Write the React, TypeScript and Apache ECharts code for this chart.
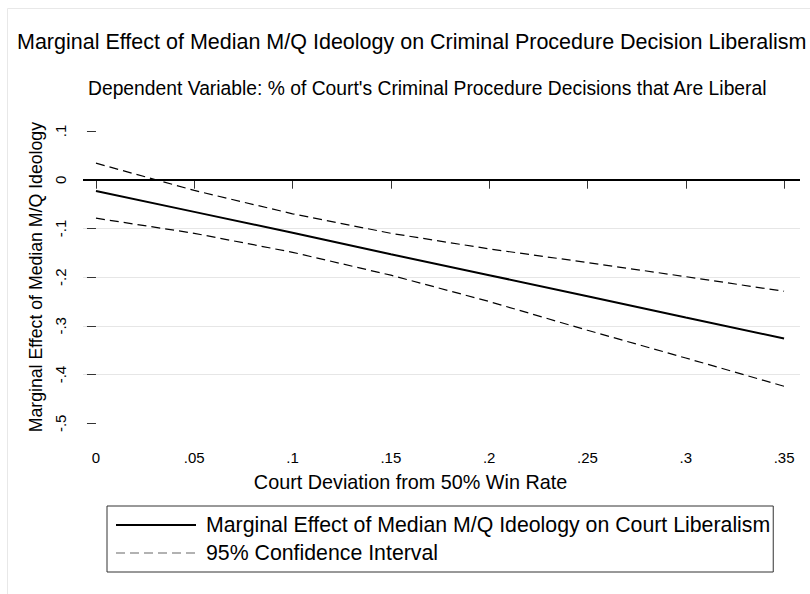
import React, { useEffect, useRef } from "react";
import * as echarts from "echarts";

const xValues = [0, 0.05, 0.1, 0.15, 0.2, 0.25, 0.3, 0.35];
const effect = [-0.023, -0.066, -0.109, -0.153, -0.196, -0.239, -0.283, -0.326];
const upperCI = [0.034, -0.022, -0.070, -0.110, -0.142, -0.170, -0.199, -0.229];
const lowerCI = [-0.079, -0.110, -0.149, -0.196, -0.250, -0.309, -0.366, -0.424];
const xTicks = [0, 0.05, 0.1, 0.15, 0.2, 0.25, 0.3, 0.35];
const referenceY = [0];

const TITLE = "Marginal Effect of Median M/Q Ideology on Criminal Procedure Decision Liberalism";
const SUBTITLE = "Dependent Variable: % of Court's Criminal Procedure Decisions that Are Liberal";
const X_NAME = "Court Deviation from 50% Win Rate";
const Y_NAME = "Marginal Effect of Median M/Q Ideology";
const S_EFFECT = "Marginal Effect of Median M/Q Ideology on Court Liberalism";
const S_CI = "95% Confidence Interval";

const FONT = "'Liberation Sans', Arial, Helvetica, sans-serif";

function fmt(v: number): string {
  const r = Math.round(v * 100) / 100;
  if (Math.abs(r) < 1e-9) return "0";
  let s = String(r);
  s = s.replace(/^(-?)0\./, "$1.");
  return s;
}

export default function App() {
  const ref = useRef<HTMLDivElement>(null);
  useEffect(() => {
    if (!ref.current) return;
    const chart = echarts.init(ref.current, null, { renderer: "svg" });
    const pairs = (ys: number[]) => xValues.map((x, i) => [x, ys[i]]);
    const hiddenSymbol = {
      color: "rgba(0,0,0,0)",
      borderColor: "rgba(0,0,0,0)",
      borderWidth: 0,
      opacity: 0,
    };
    const option: any = {
      animation: false,
      backgroundColor: "#ffffff",
      textStyle: { fontFamily: FONT },
      title: [
        {
          text: TITLE,
          left: 17,
          top: 31,
          padding: 0,
          textStyle: { fontSize: 21.5, fontWeight: "normal", color: "#000", fontFamily: FONT },
        },
        {
          text: SUBTITLE,
          left: 88,
          top: 79,
          padding: 0,
          textStyle: { fontSize: 19.3, fontWeight: "normal", color: "#000", fontFamily: FONT },
        },
      ],
      graphic: [
        {
          type: "rect",
          silent: true,
          shape: { x: 7.5, y: 8.5, width: 900, height: 700 },
          style: { fill: "none", stroke: "#e8e8e8", lineWidth: 1 },
        },
      ],
      legend: {
        orient: "vertical",
        left: 107,
        top: 506,
        padding: [8, 3, 8, 8],
        itemWidth: 80,
        itemHeight: 14,
        itemGap: 6,
        borderColor: "#333",
        borderWidth: 1,
        borderRadius: 0,
        itemStyle: hiddenSymbol,
        textStyle: { fontSize: 21.3, color: "#000", fontFamily: FONT, lineHeight: 22, padding: [0, 0, 0, 5] },
        data: [
          { name: S_EFFECT, itemStyle: hiddenSymbol },
          { name: S_CI, itemStyle: hiddenSymbol, lineStyle: { color: "#666", width: 1.2 } },
        ],
      },
      grid: { left: 83, right: 10, top: 131, bottom: 594 - 423.3, containLabel: false },
      xAxis: {
        type: "value",
        min: -0.0066,
        max: 0.3581,
        offset: 13.7,
        axisLine: { show: false },
        splitLine: { show: false },
        axisTick: { show: true, customValues: xTicks, length: 9, lineStyle: { color: "#333", width: 1 } },
        axisLabel: {
          customValues: xTicks,
          formatter: (v: number) => fmt(v),
          margin: 13,
          fontSize: 15,
          color: "#000",
          fontFamily: FONT,
        },
        name: X_NAME,
        nameLocation: "middle",
        nameGap: 35,
        nameTextStyle: { fontSize: 19.8, color: "#000", fontFamily: FONT, padding: [0, 62, 0, 0] },
      },
      yAxis: {
        type: "value",
        min: -0.5,
        max: 0.1,
        interval: 0.1,
        axisLine: { show: false },
        axisTick: { show: true, length: 9, lineStyle: { color: "#333", width: 1 } },
        splitLine: {
          show: true,
          lineStyle: {
            color: ["rgba(0,0,0,0)", "#e6e6e6", "#e6e6e6", "#e6e6e6", "#e6e6e6", "rgba(0,0,0,0)", "rgba(0,0,0,0)"],
            width: 1,
          },
        },
        axisLabel: {
          rotate: 90,
          margin: 15,
          formatter: (v: number) => fmt(v),
          fontSize: 15,
          color: "#000",
          fontFamily: FONT,
        },
        name: Y_NAME,
        nameLocation: "middle",
        nameGap: 38,
        nameTextStyle: { fontSize: 17.7, color: "#000", fontFamily: FONT },
      },
      series: [
        {
          name: S_EFFECT,
          type: "line",
          data: pairs(effect),
          symbol: "none",
          lineStyle: { color: "#000", width: 2, type: "solid" },
          z: 3,
          markLine: {
            silent: true,
            symbol: ["none", "none"],
            label: { show: false },
            lineStyle: { color: "#000", width: 2, type: "solid" },
            data: referenceY.map((y) => ({ yAxis: y })),
          },
        },
        {
          name: S_CI,
          type: "line",
          data: pairs(upperCI),
          symbol: "none",
          lineStyle: { color: "#000", width: 1.2, type: [9, 5] },
          z: 2,
        },
        {
          name: S_CI,
          type: "line",
          data: pairs(lowerCI),
          symbol: "none",
          lineStyle: { color: "#000", width: 1.2, type: [9, 5] },
          z: 2,
        },
      ],
    };
    chart.setOption(option);
    return () => chart.dispose();
  }, []);
  return (
    <div
      ref={ref}
      style={{ position: "absolute", left: 0, top: 0, width: 810, height: 594, background: "#fff" }}
    />
  );
}
